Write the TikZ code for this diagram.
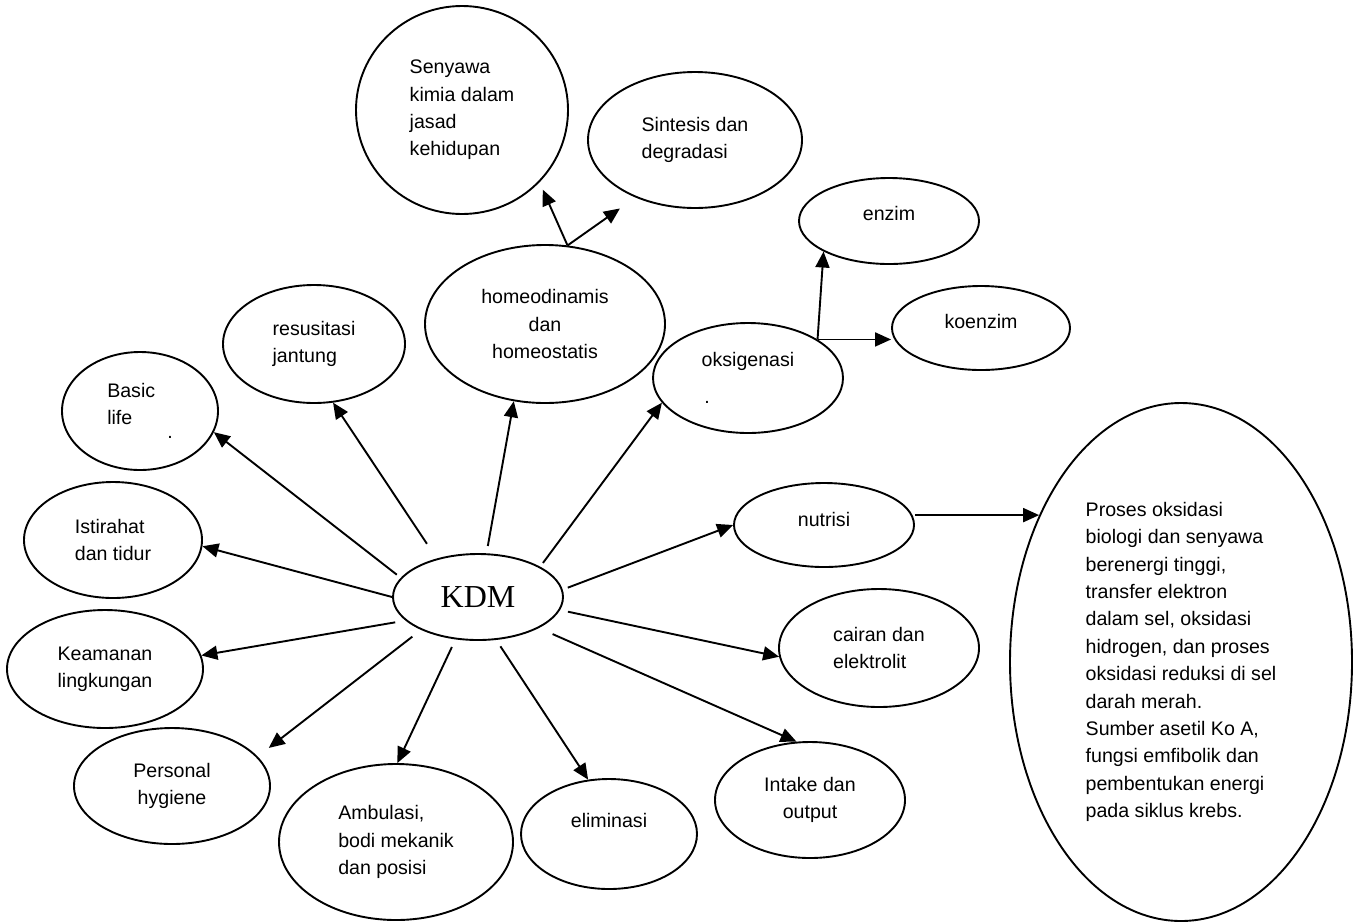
\documentclass[tikz,border=0pt]{standalone}
\usepackage{fontspec}
\setmainfont{Liberation Sans}
\newfontfamily\kdmfont{Liberation Serif}
\usetikzlibrary{arrows.meta,shapes.geometric}

\begin{document}
\begin{tikzpicture}[
  x=0.5pt, y=-0.5pt,
  font=\fontsize{9.8}{13.7}\selectfont,
  oval/.style 2 args={draw, ellipse, line width=0.95pt, inner sep=0pt,
                      minimum width=#1pt, minimum height=#2pt},
  arr/.style={-{Triangle[length=8pt, width=7pt]}, line width=0.95pt},
]
  \useasboundingbox (0,0) rectangle (1359,922);

  %% Centre
  \node[oval={85}{43}, font=\kdmfont\fontsize{16}{19}\selectfont] (kdm) at (478,597) {KDM};

  %% Top and second level
  \node[oval={106}{104}, align=left] (senyawa) at (462,110) {Senyawa\\kimia dalam\\jasad\\kehidupan};
  \node[oval={107}{68}, align=left] (sintesis) at (695,140) {Sintesis dan\\degradasi};
  \node[oval={120}{79}, align=center] (homeo) at (545,324) {homeodinamis\\dan\\homeostatis};
  \node[oval={90}{43}, text depth=8pt] (enzim) at (889,221) {enzim};
  \node[oval={89}{42}, text depth=7pt] (koenzim) at (981,328) {koenzim};
  \node[oval={95}{55}, align=center] (oksig) at (748,378) {oksigenasi\\[4.8pt]\hspace*{0pt}.\hspace*{41pt}};
  \node[oval={91}{59}, align=left] (resus) at (314,344) {resusitasi\\jantung};

  %% Left side
  \node[oval={78}{59}, align=left] (basic) at (140,411) {Basic\\life\\[-6.7pt]\hspace*{30pt}.};
  \node[oval={89}{58}, align=left] (istirahat) at (113,540) {Istirahat\\dan tidur};
  \node[oval={98}{59}, align=left] (keamanan) at (105,669) {Keamanan\\lingkungan};
  \node[oval={98}{58}, align=center] (personal) at (172,786) {Personal\\hygiene};

  %% Bottom and right side
  \node[oval={117}{78}, align=left] (ambul) at (396,842) {Ambulasi,\\bodi mekanik\\dan posisi};
  \node[oval={88}{55}, text depth=14pt] (elim) at (609,834) {eliminasi};
  \node[oval={95}{58}, align=center] (intake) at (810,800) {Intake dan\\output};
  \node[oval={100}{59}, align=left] (cairan) at (879,648) {cairan dan\\elektrolit};
  \node[oval={90}{42}, text depth=6pt] (nutrisi) at (824,525) {nutrisi};
  \node[oval={171}{259}, align=left] (proses) at (1181,662)
    {Proses oksidasi\\biologi dan senyawa\\berenergi tinggi,\\transfer elektron\\dalam sel, oksidasi\\hidrogen, dan proses\\oksidasi reduksi di sel\\darah merah.\\Sumber asetil Ko A,\\fungsi emfibolik dan\\pembentukan energi\\pada siklus krebs.};

  %% Arrows from KDM
  \draw[arr, shorten <=2.5pt] (kdm.166) -- (basic.-16);
  \draw[arr, shorten <=8.8pt] (kdm.137) -- (resus.-72);
  \draw[arr, shorten <=3.7pt] (kdm.79) -- (homeo.-112);
  \draw[arr, shorten <=2.3pt] (kdm.26) -- (oksig.-164);
  \draw[arr, shorten <=2.7pt] (kdm.5) -- (nutrisi.180);
  \draw[arr, shorten <=4pt] (kdm.-9) -- (cairan.-175);
  \draw[arr, shorten <=7.5pt] (kdm.-27) -- (intake.103);
  \draw[arr, shorten <=3.8pt] (kdm.-67) -- (elim.111);
  \draw[arr, shorten <=4.2pt] (kdm.-118) -- (ambul.89);
  \draw[arr, shorten <=5.5pt, shorten >=7pt] (kdm.-150) -- (personal.19);
  \draw[arr, shorten <=5.2pt] (kdm.-162) -- (keamanan.8);
  \draw[arr] (kdm.180) -- (istirahat.-4);

  %% Arrows - second level
  \draw[arr, shorten >=4pt] (homeo.74) -- (senyawa.-43);
  \draw[arr, shorten >=9.5pt] (homeo.74) -- (sintesis.-136);
  \draw[arr] (oksig.29) -- (enzim.-155);
  \draw[arr] (oksig.29) -- (oksig.29 -| koenzim.west);
  \draw[arr] (nutrisi.east |- proses.134) -- (proses.134);
\end{tikzpicture}
\end{document}
